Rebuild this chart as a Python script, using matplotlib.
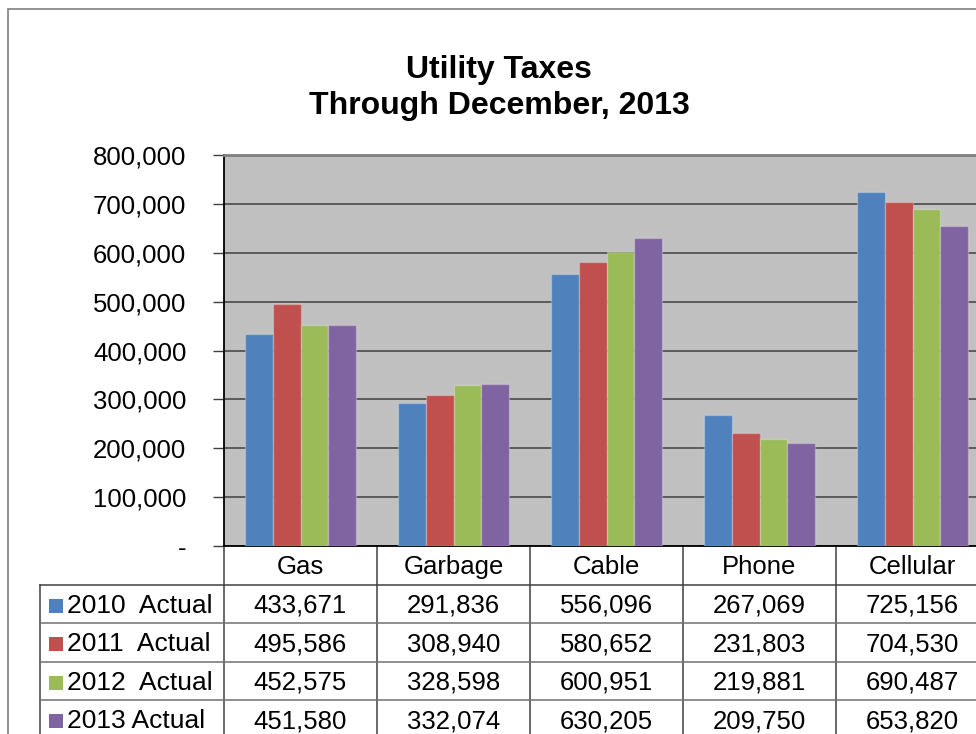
import matplotlib.pyplot as plt
from matplotlib.patches import Rectangle
from matplotlib.transforms import blended_transform_factory
import numpy as np

plt.rcParams['font.family'] = ['Liberation Sans', 'DejaVu Sans']

categories = ['Gas', 'Garbage', 'Cable', 'Phone', 'Cellular']
series_names = ['2010  Actual', '2011  Actual', '2012  Actual', '2013 Actual']
actual_2010 = [433671, 291836, 556096, 267069, 725156]
actual_2011 = [495586, 308940, 580652, 231803, 704530]
actual_2012 = [452575, 328598, 600951, 219881, 690487]
actual_2013 = [451580, 332074, 630205, 209750, 653820]
yticks = [0, 100000, 200000, 300000, 400000, 500000, 600000, 700000, 800000]
colors = ['#4F81BD', '#C0504D', '#9BBB59', '#8064A2']

series = [actual_2010, actual_2011, actual_2012, actual_2013]

W, H = 976, 734
fig = plt.figure(figsize=(W / 100, H / 100), dpi=100)

# plot area in pixels (right edge runs past the canvas)
left, right, top, bottom = 224, 989, 155, 546
ax = fig.add_axes([left / W, 1 - bottom / H, (right - left) / W, (bottom - top) / H])
ax.set_facecolor('#C0C0C0')

x = np.arange(len(categories))
w = 0.183
for i, (vals, c) in enumerate(zip(series, colors)):
    ax.bar(x + (i - 1.5) * w, vals, w, color=c, edgecolor=(1, 1, 1, 0.25),
           linewidth=1.0, zorder=3)

ax.set_xlim(-0.5, len(categories) - 0.5)
ax.set_ylim(0, 800000)
ax.set_yticks(yticks)
ax.set_yticklabels(['-' if v == 0 else f'{v:,}' for v in yticks], fontsize=18.5)
ax.tick_params(axis='y', length=8, width=1, color='#404040', pad=19)
ax.set_xticks([])
ax.grid(axis='y', color='#404040', linewidth=1.1, zorder=1)
ax.spines['right'].set_visible(False)
ax.spines['top'].set_color('#808080')
ax.spines['top'].set_linewidth(2)
ax.spines['left'].set_color('black')
ax.spines['left'].set_linewidth(1.3)
ax.spines['bottom'].set_color('black')
ax.spines['bottom'].set_linewidth(1.3)

# data table below the plot: x in data units, y in axes fraction
tr = blended_transform_factory(ax.transData, ax.transAxes)
ph = bottom - top
row_h = 38.5 / ph
label_left = -0.5 - (left - 40) / 153.0
line_kw = dict(color='#404040', linewidth=1.1, transform=tr, clip_on=False)

n_rows = len(series)
y_header_bot = -row_h
y_end = -(n_rows + 1) * row_h - 0.05
for k in range(len(categories) + 1):
    ax.plot([k - 0.5, k - 0.5], [0, y_end], **line_kw)
ax.plot([label_left, label_left], [y_header_bot, y_end], **line_kw)
ax.plot([label_left, len(categories) - 0.5], [y_header_bot, y_header_bot], **line_kw)
for r in range(1, n_rows):
    yy = -(r + 1) * row_h
    ax.plot([label_left, len(categories) - 0.5], [yy, yy], color='#707070',
            linewidth=1.1, transform=tr, clip_on=False)

off = 2 / ph
for k, cat in enumerate(categories):
    ax.text(k, -0.5 * row_h - off, cat, transform=tr, ha='center', va='center',
            fontsize=18.5)

for r, (name, vals, c) in enumerate(zip(series_names, series, colors)):
    yc = -(r + 1.5) * row_h - off
    for k, v in enumerate(vals):
        ax.text(k, yc, f'{v:,}', transform=tr, ha='center', va='center', fontsize=18.5)
    # legend key
    key_x = label_left + 9 / 153.0
    ax.add_patch(Rectangle((key_x, yc - 7 / ph), 14 / 153.0, 14 / ph,
                           facecolor=c, edgecolor='none', transform=tr, clip_on=False))
    ax.text(label_left + 27 / 153.0, yc, name, transform=tr, ha='left', va='center',
            fontsize=19)

# chart border
fig.patches.append(Rectangle((8 / W, -0.1), 1.1, 1 - 9 / H + 0.1, transform=fig.transFigure,
                             facecolor='none', edgecolor='#808080', linewidth=1.2))

fig.text(499 / W, 1 - 70 / H, 'Utility Taxes', ha='center', va='center',
         fontsize=23, fontweight='bold')
fig.text(499 / W, 1 - 106 / H, 'Through December, 2013', ha='center', va='center',
         fontsize=23, fontweight='bold')

fig.savefig('out.png', dpi=100)
